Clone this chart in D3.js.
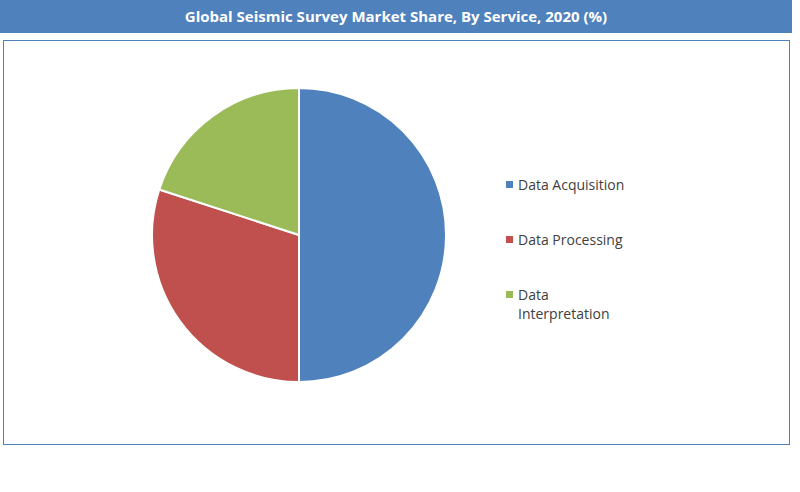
<!DOCTYPE html>
<html><head><meta charset="utf-8">
<script src="https://cdn.jsdelivr.net/npm/d3@7/dist/d3.min.js"></script>
<style>body{margin:0;background:#fff;font-family:"Open Sans",sans-serif}</style>
</head><body>
<svg id="c" width="800" height="492"></svg>
<script>
const title = "Global Seismic Survey  Market Share, By Service, 2020 (%)";
const categories = ["Data Acquisition", "Data Processing", "Data Interpretation"];
const values = [50, 30, 20];
const colors = ["#4f81bd", "#c0504d", "#9bbb59"];

const svg = d3.select("#c");
svg.append("rect").attr("x",0).attr("y",0).attr("width",792).attr("height",33).attr("fill","#4f81bd");
svg.append("text").attr("x",396).attr("y",22).attr("text-anchor","middle").attr("fill","#fff")
  .attr("font-size",15).attr("font-weight","bold").text(title);
svg.append("rect").attr("x",3.5).attr("y",40.5).attr("width",786).attr("height",404)
  .attr("fill","none").attr("stroke","#4f81bd").attr("stroke-width",1);

const pie = d3.pie().sort(null)(values);
const arc = d3.arc().innerRadius(0).outerRadius(147);
const g = svg.append("g").attr("transform","translate(299,235)");
g.selectAll("path").data(pie).join("path").attr("d",arc)
  .attr("fill",(d,i)=>colors[i]).attr("stroke","#fff").attr("stroke-width",2);

const leg = [[["Data Acquisition"],185],[["Data Processing"],240],[["Data","Interpretation"],295]];
categories.forEach((c,i)=>{
  const y = leg[i][1];
  svg.append("rect").attr("x",506).attr("y",y-4).attr("width",7).attr("height",7).attr("fill",colors[i]);
  const t = svg.append("text").attr("x",518).attr("y",y+5).attr("font-size",14).attr("fill","#404040");
  leg[i][0].forEach((l,j)=>t.append("tspan").attr("x",518).attr("dy",j?19:0).text(l));
});
</script>
</body></html>
